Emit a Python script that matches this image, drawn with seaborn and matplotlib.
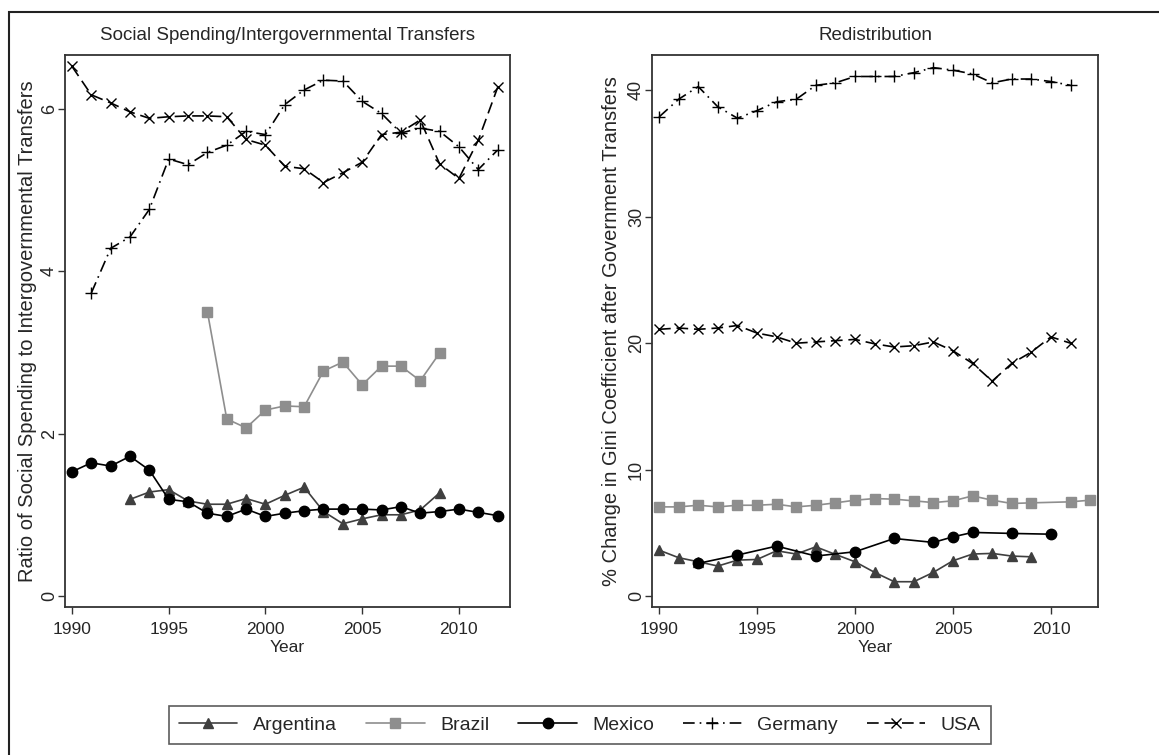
import matplotlib
matplotlib.use('Agg')
import matplotlib.pyplot as plt
from matplotlib.patches import Rectangle
import seaborn as sns
import pandas as pd

# ---- data: left panel (ratio of social spending to transfers) ----
years_all = list(range(1990, 2013))
usa_ratio = [6.52, 6.17, 6.07, 5.96, 5.88, 5.90, 5.91, 5.91, 5.90, 5.62, 5.55, 5.29,
             5.26, 5.09, 5.21, 5.34, 5.68, 5.71, 5.86, 5.32, 5.14, 5.61, 6.26]
ger_ratio_years = list(range(1991, 2013))
ger_ratio = [3.73, 4.28, 4.42, 4.76, 5.38, 5.31, 5.46, 5.55, 5.72, 5.68, 6.05,
             6.23, 6.35, 6.34, 6.09, 5.94, 5.70, 5.76, 5.72, 5.53, 5.25, 5.49]
bra_ratio_years = list(range(1997, 2010))
bra_ratio = [3.50, 2.18, 2.07, 2.29, 2.34, 2.33, 2.77, 2.88, 2.60, 2.83, 2.83, 2.65, 2.99]
mex_ratio = [1.53, 1.64, 1.60, 1.72, 1.55, 1.19, 1.16, 1.02, 0.98, 1.07, 0.98, 1.02,
             1.05, 1.07, 1.07, 1.07, 1.06, 1.10, 1.02, 1.04, 1.07, 1.03, 0.99]
arg_ratio_years = list(range(1993, 2010))
arg_ratio = [1.19, 1.28, 1.31, 1.17, 1.13, 1.13, 1.20, 1.13, 1.24, 1.34, 1.04,
             0.89, 0.95, 1.00, 1.00, 1.06, 1.27]

# ---- data: right panel (% change in Gini after transfers) ----
ger_red_years = list(range(1990, 2012))
ger_red = [37.9, 39.3, 40.3, 38.7, 37.8, 38.4, 39.1, 39.3, 40.4, 40.6, 41.1,
           41.1, 41.1, 41.4, 41.8, 41.6, 41.3, 40.6, 40.9, 40.9, 40.7, 40.4]
usa_red_years = list(range(1990, 2012))
usa_red = [21.1, 21.2, 21.1, 21.2, 21.4, 20.8, 20.5, 20.0, 20.1, 20.2, 20.3,
           19.95, 19.7, 19.8, 20.1, 19.4, 18.4, 17.0, 18.4, 19.3, 20.5, 20.0]
bra_red_years = list(range(1990, 2010)) + [2011, 2012]
bra_red = [7.05, 7.05, 7.18, 7.05, 7.18, 7.18, 7.26, 7.05, 7.18, 7.37, 7.58,
           7.71, 7.66, 7.53, 7.39, 7.53, 7.92, 7.58, 7.32, 7.37, 7.45, 7.58]
mex_red_years = [1992, 1994, 1996, 1998, 2000, 2002, 2004, 2005, 2006, 2008, 2010]
mex_red = [2.58, 3.24, 3.95, 3.16, 3.50, 4.55, 4.24, 4.68, 5.03, 4.95, 4.89]
arg_red_years = list(range(1990, 2010))
arg_red = [3.63, 3.03, 2.71, 2.37, 2.84, 2.89, 3.58, 3.32, 3.89, 3.29, 2.71,
           1.87, 1.13, 1.13, 1.87, 2.79, 3.32, 3.37, 3.16, 3.10]

countries = ['Argentina', 'Brazil', 'Mexico', 'Germany', 'USA']

left_df = pd.concat([
    pd.DataFrame({'Year': arg_ratio_years, 'value': arg_ratio, 'Country': 'Argentina'}),
    pd.DataFrame({'Year': bra_ratio_years, 'value': bra_ratio, 'Country': 'Brazil'}),
    pd.DataFrame({'Year': years_all, 'value': mex_ratio, 'Country': 'Mexico'}),
    pd.DataFrame({'Year': ger_ratio_years, 'value': ger_ratio, 'Country': 'Germany'}),
    pd.DataFrame({'Year': years_all, 'value': usa_ratio, 'Country': 'USA'}),
])
right_df = pd.concat([
    pd.DataFrame({'Year': arg_red_years, 'value': arg_red, 'Country': 'Argentina'}),
    pd.DataFrame({'Year': bra_red_years, 'value': bra_red, 'Country': 'Brazil'}),
    pd.DataFrame({'Year': mex_red_years, 'value': mex_red, 'Country': 'Mexico'}),
    pd.DataFrame({'Year': ger_red_years, 'value': ger_red, 'Country': 'Germany'}),
    pd.DataFrame({'Year': usa_red_years, 'value': usa_red, 'Country': 'USA'}),
])

# styles per country
styles = {
    'Argentina': dict(color='#3f3f3f', marker='^', ms=7.5, ls='-', mew=1.0),
    'Brazil': dict(color='#8e8e8e', marker='s', ms=7, ls='-', mew=1.0),
    'Mexico': dict(color='black', marker='o', ms=7.5, ls='-', mew=1.0),
    'Germany': dict(color='black', marker='+', ms=9, ls=(0, (7, 3, 1, 3)), mew=1.0),
    'USA': dict(color='black', marker='x', ms=7, ls=(0, (7, 3.5)), mew=1.0),
}

sns.set_style('white')
plt.rcParams['font.family'] = ['Liberation Sans', 'DejaVu Sans']

fig = plt.figure(figsize=(11.59, 7.55), dpi=100)
ax1 = fig.add_axes([65 / 1159, 1 - 607 / 755, 445 / 1159, 552 / 755])
ax2 = fig.add_axes([652 / 1159, 1 - 607 / 755, 446 / 1159, 552 / 755])


def draw_panel(ax, df, title, ylabel, ylim, yticks, xlim, ylab_x):
    for c in countries:
        st = styles[c]
        sub = df[df['Country'] == c]
        sns.lineplot(data=sub, x='Year', y='value', ax=ax, color=st['color'],
                     marker=st['marker'], markersize=st['ms'], linestyle=st['ls'],
                     linewidth=1.2, mec=st['color'], mfc=st['color'], mew=st['mew'],
                     label=c, errorbar=None)
    ax.set_xlim(*xlim)
    ax.set_ylim(*ylim)
    ax.set_xticks([1990, 1995, 2000, 2005, 2010])
    ax.set_yticks(yticks)
    ax.tick_params(axis='x', direction='out', length=5, width=1, color='#333333',
                   labelsize=12.5, bottom=True, pad=6)
    ax.tick_params(axis='y', direction='out', length=5, width=1, color='#333333',
                   labelsize=13, left=True, pad=0)
    for lab in ax.get_yticklabels():
        lab.set_rotation(90)
        lab.set_va('center')
    ax.set_title(title, fontsize=13.5, pad=11)
    ax.set_xlabel('Year', fontsize=12.5, labelpad=2)
    ax.set_ylabel(ylabel, fontsize=14.5)
    ax.yaxis.set_label_coords(ylab_x, 0.5)
    for sp in ax.spines.values():
        sp.set_visible(True)
        sp.set_color('#333333')
        sp.set_linewidth(1.3)
    if ax.get_legend() is not None:
        ax.get_legend().remove()


draw_panel(ax1, left_df, 'Social Spending/Intergovernmental Transfers',
           'Ratio of Social Spending to Intergovernmental Transfers',
           (-0.135, 6.66), [0, 2, 4, 6], (1989.64, 2012.64), -0.063)
draw_panel(ax2, right_df, 'Redistribution',
           '% Change in Gini Coefficient after Government Transfers',
           (-0.87, 42.8), [0, 10, 20, 30, 40], (1989.64, 2012.4), -0.07)

handles, labels = ax1.get_legend_handles_labels()
leg = fig.legend(handles, labels, loc='center', ncol=5,
                 bbox_to_anchor=(580 / 1159, 1 - 725 / 755),
                 frameon=True, fancybox=False, edgecolor='#333333',
                 fontsize=14, handlelength=3.0, columnspacing=1.5,
                 handletextpad=0.8, borderpad=0.5)
leg.get_frame().set_linewidth(1.2)

# outer border
fig.patches.append(Rectangle((9 / 1159, -0.05), 1.2, 1.05 - 12 / 755,
                             transform=fig.transFigure, fill=False,
                             edgecolor='#222222', linewidth=1.5))

fig.savefig('out.png', dpi=100)
